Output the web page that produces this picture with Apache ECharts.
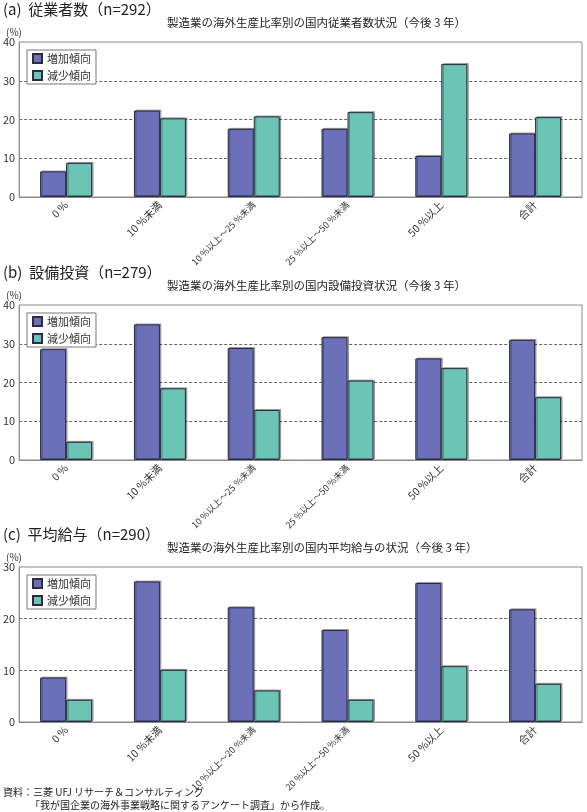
<!DOCTYPE html>
<html>
<head>
<meta charset="utf-8">
<script src="https://cdn.jsdelivr.net/npm/echarts@6/dist/echarts.min.js"></script>
<style>html,body{margin:0;padding:0;background:#fff;}#c{width:587px;height:812px;}</style>
</head>
<body>
<div id="c"></div>
<script>
const seriesNames = ['増加傾向', '減少傾向'];
const catsAB = ['0 %', '10 %未満', '10 %以上～25 %未満', '25 %以上～50 %未満', '50 %以上', '合計'];
const catsC = ['0 %', '10 %未満', '10 %以上～20 %未満', '20 %以上～50 %未満', '50 %以上', '合計'];
const aInc = [6.6, 22.3, 17.6, 17.6, 10.6, 16.4];
const aDec = [8.8, 20.3, 20.8, 21.9, 34.3, 20.6];
const bInc = [28.6, 35.0, 28.9, 31.7, 26.2, 31.0];
const bDec = [4.7, 18.5, 12.9, 20.5, 23.7, 16.2];
const cInc = [8.6, 27.2, 22.2, 17.8, 26.9, 21.8];
const cDec = [4.3, 10.1, 6.1, 4.3, 10.8, 7.4];
const yMaxes = [40, 40, 30];
const panelTitles = ['(a)  従業者数（n=292）', '(b)  設備投資（n=279）', '(c)  平均給与（n=290）'];
const subTitles = ['製造業の海外生産比率別の国内従業者数状況（今後 3 年）', '製造業の海外生産比率別の国内設備投資状況（今後 3 年）', '製造業の海外生産比率別の国内平均給与の状況（今後 3 年）'];
const source1 = '資料：三菱 UFJ リサーチ＆コンサルティング';
const source2 = '「我が国企業の海外事業戦略に関するアンケート調査」から作成。';

const FONT = '"Noto Sans CJK JP", "Noto Sans", sans-serif';
const gridTops = [42, 305, 567];
const gridH = 155;
const colors = ['#6b70b8', '#6cc4b4'];
const panels = [[catsAB, aInc, aDec], [catsAB, bInc, bDec], [catsC, cInc, cDec]];

const grids = [], xAxes = [], yAxes = [], series = [], titles = [], legends = [];
panels.forEach((p, i) => {
  const top = gridTops[i];
  grids.push({left: 18, right: 5, top: top, height: gridH, show: true, borderColor: '#8a8a8a', borderWidth: 1, backgroundColor: 'transparent'});
  xAxes.push({
    type: 'category', gridIndex: i,
    data: p[0].map(c => c.length > 8 ? {value: c, textStyle: {fontSize: 9}} : c),
    axisLine: {lineStyle: {color: '#8a8a8a', width: 1}},
    axisTick: {inside: true, length: 5, lineStyle: {color: '#8a8a8a'}},
    axisLabel: {rotate: 45, interval: 0, fontSize: 10.5, color: '#333', margin: 6, fontFamily: FONT}
  });
  yAxes.push({
    type: 'value', gridIndex: i, min: 0, max: yMaxes[i], interval: 10,
    axisLine: {show: true, lineStyle: {color: '#8a8a8a'}},
    axisTick: {show: false},
    axisLabel: {fontSize: 11, color: '#333', margin: 4, fontFamily: FONT},
    splitLine: {show: true, showMinLine: false, showMaxLine: false, lineStyle: {type: [3, 2], color: '#666', width: 1}}
  });
  [p[1], p[2]].forEach((vals, k) => {
    series.push({
      name: seriesNames[k], type: 'bar', xAxisIndex: i, yAxisIndex: i, data: vals,
      barWidth: 26, barGap: '0%',
      itemStyle: {color: colors[k], borderColor: '#2b2b44', borderWidth: 1,
        shadowColor: 'rgba(0,0,0,0.3)', shadowOffsetX: 1.5, shadowOffsetY: -1, shadowBlur: 0},
      emphasis: {disabled: true}
    });
  });
  titles.push({text: panelTitles[i], left: 3, top: top - 40, padding: 0, textStyle: {fontSize: 15, fontWeight: 'normal', color: '#222', fontFamily: FONT}});
  titles.push({text: subTitles[i], left: 167, top: top - 25, padding: 0, textStyle: {fontSize: 11.5, fontWeight: 'normal', color: '#222', fontFamily: FONT}});
  titles.push({text: '(%)', left: 6, top: top - 15, padding: 0, textStyle: {fontSize: 10, fontWeight: 'normal', color: '#333', fontFamily: FONT}});
  legends.push({
    data: seriesNames, orient: 'vertical', left: 27, top: top + 8,
    itemWidth: 9, itemHeight: 9, itemGap: 6, icon: 'rect',
    padding: [3, 5, 3, 5], borderColor: '#777', borderWidth: 1, backgroundColor: '#fff', borderRadius: 0,
    textStyle: {fontSize: 11, color: '#333', fontFamily: FONT}, selectedMode: false
  });
});
titles.push({text: source1, left: 3, top: 787, padding: 0, textStyle: {fontSize: 10, fontWeight: 'normal', color: '#222', fontFamily: FONT}});
titles.push({text: source2, left: 30, top: 800, padding: 0, textStyle: {fontSize: 10, fontWeight: 'normal', color: '#222', fontFamily: FONT}});

const chart = echarts.init(document.getElementById('c'), null, {renderer: 'canvas'});
chart.setOption({
  animation: false,
  textStyle: {fontFamily: FONT},
  title: titles, legend: legends, grid: grids, xAxis: xAxes, yAxis: yAxes, series: series
});
</script>
</body>
</html>
